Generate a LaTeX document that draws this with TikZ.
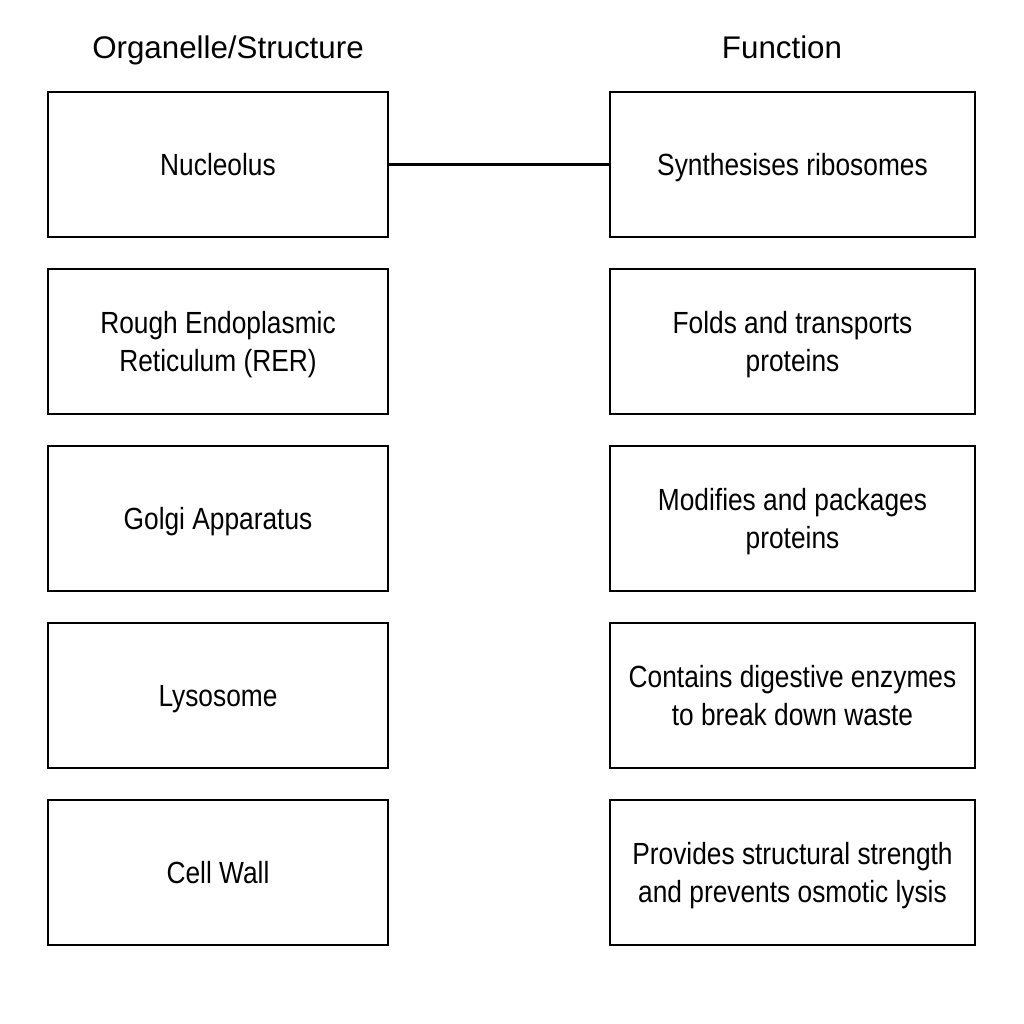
\documentclass[tikz,border=0pt]{standalone}
\usepackage{fontspec}
\setmainfont{Liberation Sans}
\newfontfamily\boxfont[FakeStretch=0.86]{Liberation Sans}
\begin{document}
\begin{tikzpicture}[x=0.01cm,y=-0.01cm,
  box/.style={draw,line width=0.6pt,inner sep=0pt,align=center,text depth=0pt,font=\boxfont\fontsize{8.7}{10.7}\selectfont},
  lbox/.style={box,minimum width=3.4cm,minimum height=1.45cm},
  rbox/.style={box,minimum width=3.65cm,minimum height=1.45cm},
  head/.style={anchor=base,font=\fontsize{8.9}{10.5}\selectfont},
  link/.style={line width=0.6pt}]
\useasboundingbox (0,0) rectangle (1024,1024);
\node[head] (h1) at (228,58) {Organelle/Structure};
\node[head] (h2) at (782,58) {Function};
\node[lbox] (l1) at (218,164.5) {Nucleolus};
\node[lbox] (l2) at (218,341.5) {Rough Endoplasmic\\Reticulum (RER)};
\node[lbox] (l3) at (218,518.5) {Golgi Apparatus};
\node[lbox] (l4) at (218,695.5) {Lysosome};
\node[lbox] (l5) at (218,872.5) {Cell Wall};
\node[rbox] (r1) at (792.5,164.5) {Synthesises ribosomes};
\node[rbox] (r2) at (792.5,341.5) {Folds and transports\\proteins};
\node[rbox] (r3) at (792.5,518.5) {Modifies and packages\\proteins};
\node[rbox] (r4) at (792.5,695.5) {Contains digestive enzymes\\to break down waste};
\node[rbox] (r5) at (792.5,872.5) {Provides structural strength\\and prevents osmotic lysis};
\draw[link] (l1) -- (r1);
\end{tikzpicture}
\end{document}
